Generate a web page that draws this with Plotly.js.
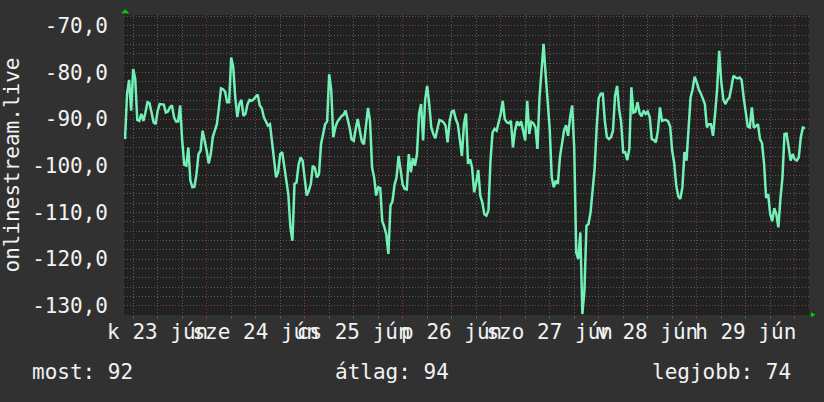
<!DOCTYPE html>
<html>
<head>
<meta charset="utf-8">
<script src="https://cdn.plot.ly/plotly-3.0.1.min.js"></script>
<style>
  html, body { margin: 0; padding: 0; background: #313131; }
  #chart { width: 824px; height: 402px; }
</style>
</head>
<body>
<div id="chart"></div>
<script>
// --- data (30-minute samples) ---
const seriesName = 'onlinestream.live';
const startTime = '2020-06-23 04:00';
const stepMinutes = 30;

const day23 = [-94.3, -84.6, -81.6, -88.2, -79.3, -81.4, -90.2, -90.4, -88.9, -90.4,
  -88.6, -86.4, -86.6, -88.9, -90.7, -91.1, -88.2, -86.8, -86.9, -86.9,
  -88.6, -88.4, -87.5, -87.1, -89.6, -90.5, -90.5, -87.1, -94.6, -99.8,
  -100.0, -96.1, -103.2, -104.6, -104.5, -101.8, -97.5, -96.8, -92.5, -94.5];
const day24 = [-96.8, -99.5, -97.5, -93.8, -92.6, -91.1, -87.5, -83.4, -83.6, -84.1,
  -86.4, -86.4, -76.8, -78.9, -85.4, -89.6, -86.8, -85.9, -89.3, -88.9,
  -86.8, -85.9, -86.1, -85.8, -85.2, -84.8, -87.1, -87.7, -89.6, -90.5,
  -91.4, -91.1, -95.0, -98.2, -102.5, -101.4, -97.5, -97.1, -100.4, -103.2,
  -106.2, -113.2, -116.1, -103.9, -103.6, -99.8, -98.2, -98.9];
const day25 = [-102.1, -106.4, -105.4, -103.9, -100.0, -100.5, -102.5, -101.8, -95.4, -92.9,
  -91.1, -90.5, -80.4, -83.8, -93.9, -91.8, -90.6, -90.0, -89.4, -89.1,
  -88.2, -90.0, -91.8, -94.4, -94.7, -92.1, -90.0, -92.5, -94.8, -95.4,
  -92.1, -87.6, -90.4, -100.4, -102.5, -106.4, -104.6, -104.8, -111.9, -113.1,
  -114.8, -118.9, -108.6, -107.6, -104.1, -102.5, -97.9, -100.7];
const day26 = [-104.1, -105.0, -105.1, -97.5, -101.4, -98.4, -100.0, -97.5, -88.9, -86.8,
  -94.6, -85.9, -82.9, -86.8, -91.8, -93.2, -94.1, -92.1, -90.2, -90.4,
  -90.7, -91.4, -95.0, -90.4, -88.4, -88.2, -90.0, -91.1, -95.0, -97.9,
  -91.1, -88.8, -99.6, -98.6, -100.4, -105.7, -103.6, -100.9, -106.4, -107.9,
  -110.4, -110.7, -109.6, -98.9, -92.9, -92.1, -92.5, -90.5];
const day27 = [-88.9, -86.1, -90.0, -90.7, -90.9, -90.4, -96.1, -92.5, -90.5, -91.4,
  -90.5, -92.5, -94.6, -86.1, -93.2, -90.6, -90.9, -91.8, -96.4, -85.4,
  -78.6, -73.9, -80.4, -85.4, -92.1, -102.5, -104.6, -103.2, -103.9, -98.2,
  -94.8, -92.5, -91.3, -93.6, -89.6, -87.1, -96.1, -118.6, -120.0, -114.3,
  -131.8, -126.8, -112.9, -112.5, -110.0, -104.8, -100.7, -91.8];
const day28 = [-85.5, -84.6, -84.6, -90.4, -93.9, -94.3, -93.9, -92.5, -85.0, -82.9,
  -87.9, -90.7, -97.1, -97.1, -98.8, -96.4, -83.2, -88.6, -88.4, -86.4,
  -88.7, -89.4, -88.2, -88.9, -88.4, -89.6, -94.3, -94.5, -95.0, -92.5,
  -87.5, -90.4, -90.2, -90.2, -90.5, -91.6, -96.8, -99.5, -104.3, -106.6,
  -107.1, -104.6, -97.1, -98.9, -92.5, -85.4, -83.6, -80.9];
const day29 = [-82.1, -83.6, -84.5, -85.7, -86.8, -91.8, -91.1, -91.1, -93.6, -88.9,
  -83.6, -75.4, -81.8, -85.7, -86.8, -85.9, -85.4, -83.2, -80.7, -81.1,
  -81.3, -81.1, -81.6, -85.4, -88.9, -91.6, -91.8, -87.5, -91.9, -91.4,
  -91.1, -94.3, -95.2, -99.6, -106.9, -106.1, -110.4, -111.9, -109.1, -110.4,
  -113.2, -107.1, -102.5, -93.2, -93.1, -95.9, -98.9, -97.5];
const day30 = [-98.6, -98.9, -98.2, -93.9, -91.8, -92.0];

// axis ticks and labels
const yTickVals = [-70, -80, -90, -100, -110, -120, -130];
const yTickText = ['-70,0', '-80,0', '-90,0', '-100,0', '-110,0', '-120,0', '-130,0'];
const dayLabelVals = ['2020-06-23 12:00', '2020-06-24 12:00', '2020-06-25 12:00', '2020-06-26 12:00',
  '2020-06-27 12:00', '2020-06-28 12:00', '2020-06-29 12:00'];
const dayLabelText = ['k 23 jún', 'sze 24 jún', 'cs 25 jún', 'p 26 jún', 'szo 27 jún', 'v 28 jún', 'h 29 jún'];
const legendTexts = ['most: 92', 'átlag: 94', 'legjobb: 74'];

// --- build ---
const values = [].concat(day23, day24, day25, day26, day27, day28, day29, day30);
function pad(n) { return (n < 10 ? '0' : '') + n; }
function fmt(d) {
  return d.getUTCFullYear() + '-' + pad(d.getUTCMonth() + 1) + '-' + pad(d.getUTCDate()) + ' ' +
    pad(d.getUTCHours()) + ':' + pad(d.getUTCMinutes());
}
const t0 = new Date(startTime.replace(' ', 'T') + ':00Z');
const times = values.map((v, i) => fmt(new Date(t0.getTime() + i * stepMinutes * 60000)));

const FONT = 'DejaVu Sans Mono, monospace';
const TXT = '#f2f2f2';
const MAJOR = 'rgba(150,60,60,0.85)';
const MINOR = 'rgba(110,110,110,0.75)';
const xRange = ['2020-06-23 03:45', '2020-06-30 03:30'];

const trace = {
  type: 'scatter', mode: 'lines', x: times, y: values, name: seriesName,
  line: { color: '#72f0b6', width: 2.5 }, hoverinfo: 'skip'
};
// empty trace so the label axis (x2) is drawn
const labelAxisTrace = {
  type: 'scatter', mode: 'lines', x: [], y: [], xaxis: 'x2', yaxis: 'y', hoverinfo: 'skip', showlegend: false
};

const layout = {
  width: 824, height: 402,
  paper_bgcolor: '#313131', plot_bgcolor: '#212121',
  margin: { l: 124, r: 15, t: 15, b: 87 },
  showlegend: false,
  font: { family: FONT, size: 21, color: TXT },
  xaxis: {
    type: 'date', range: xRange, tickmode: 'linear', tick0: '2020-06-23 00:00', dtick: 86400000,
    showticklabels: false, showgrid: true, gridcolor: MAJOR, griddash: '1px,2px', gridwidth: 1,
    ticks: 'outside', ticklen: 3, tickcolor: MAJOR, zeroline: false, showline: false,
    minor: { tickmode: 'linear', tick0: '2020-06-23 00:00', dtick: 21600000, showgrid: true,
      gridcolor: MINOR, griddash: '1px,2px', gridwidth: 1, ticks: 'outside', ticklen: 3, tickcolor: MINOR },
    fixedrange: true
  },
  xaxis2: {
    type: 'date', overlaying: 'x', anchor: 'y', side: 'bottom', range: xRange, autorange: false,
    tickmode: 'array', tickvals: dayLabelVals, ticktext: dayLabelText, tickangle: 0,
    showgrid: false, ticks: '', zeroline: false, showline: false, ticklabelstandoff: 2,
    tickfont: { family: FONT, size: 21, color: TXT }, fixedrange: true
  },
  yaxis: {
    range: [-132.0, -67.7], tickmode: 'array', tickvals: yTickVals, ticktext: yTickText,
    showgrid: true, gridcolor: MAJOR, griddash: '1px,2px', gridwidth: 1,
    zeroline: false, showline: false, ticks: '', ticklabelstandoff: 15,
    tickfont: { family: FONT, size: 21, color: TXT },
    minor: { tickmode: 'linear', tick0: -70, dtick: 2, showgrid: true, gridcolor: MINOR,
      griddash: '1px,2px', gridwidth: 1 },
    title: { text: seriesName, font: { family: FONT, size: 21, color: TXT }, standoff: 9 },
    fixedrange: true
  },
  shapes: [
    { type: 'path', xref: 'paper', yref: 'paper', path: 'M 0.0018 1.0195 L -0.0041 1.0055 L 0.0077 1.0055 Z',
      fillcolor: '#00d000', line: { width: 0 } },
    { type: 'path', xref: 'paper', yref: 'paper', path: 'M 1.0095 0.001 L 1.0028 0.0095 L 1.0028 -0.0075 Z',
      fillcolor: '#00d000', line: { width: 0 } }
  ],
  annotations: [
    { xref: 'paper', yref: 'paper', x: -0.1372, y: -0.19, xanchor: 'left', yanchor: 'middle',
      text: legendTexts[0], showarrow: false, font: { family: FONT, size: 21, color: TXT } },
    { xref: 'paper', yref: 'paper', x: 0.391, y: -0.19, xanchor: 'center', yanchor: 'middle',
      text: legendTexts[1], showarrow: false, font: { family: FONT, size: 21, color: TXT } },
    { xref: 'paper', yref: 'paper', x: 0.977, y: -0.19, xanchor: 'right', yanchor: 'middle',
      text: legendTexts[2], showarrow: false, font: { family: FONT, size: 21, color: TXT } }
  ]
};

Plotly.newPlot('chart', [trace, labelAxisTrace], layout, { staticPlot: true, displayModeBar: false });
</script>
</body>
</html>
